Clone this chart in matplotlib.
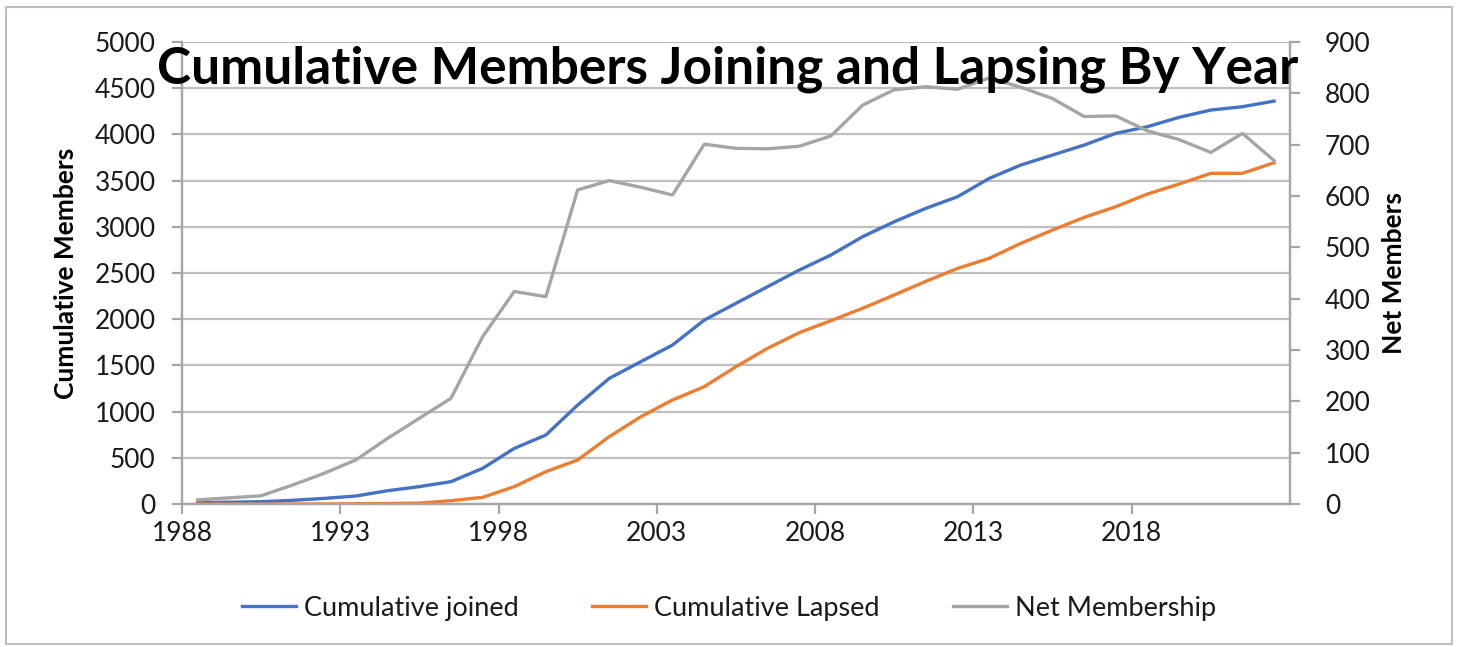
import pandas as pd
import matplotlib.pyplot as plt
import matplotlib.dates as mdates
from matplotlib.patches import Rectangle

plt.rcParams['font.family'] = ['Lato', 'DejaVu Sans']

# yearly data, 1988 - 2022
years = list(range(1988, 2023))
cum_joined = [14, 20, 25, 40, 61, 87, 144, 188, 242, 386, 602, 747, 1071, 1360, 1541,
              1721, 1991, 2172, 2352, 2532, 2695, 2893, 3055, 3200, 3326, 3524, 3669,
              3777, 3885, 4012, 4084, 4185, 4264, 4300, 4361]
cum_lapsed = [0, 0, 0, 0, 0, 3, 5, 10, 36, 72, 188, 350, 476, 729, 945,
              1126, 1270, 1486, 1685, 1854, 1984, 2118, 2262, 2410, 2550, 2659, 2821,
              2965, 3102, 3218, 3355, 3463, 3579, 3579, 3694]
net_members = [8, 12, 16, 37, 60, 86, 128, 167, 206, 326, 414, 404, 612, 630, 617,
               602, 701, 693, 692, 697, 717, 777, 807, 813, 808, 830, 812,
               790, 755, 756, 727, 710, 685, 722, 669]

# plot each year at mid-year
dates = pd.to_datetime([f'{y}-07-01' for y in years])

blue = '#4472C4'
orange = '#ED7D31'
grey = '#A5A5A5'
axcol = '#A6A6A6'
txt = '#1a1a1a'

fig = plt.figure(figsize=(14.58, 6.47), dpi=100)
ax = fig.add_axes([0.1248, 0.221, 0.76, 0.714])
ax2 = ax.twinx()

l1, = ax.plot(dates, cum_joined, color=blue, lw=2.4, label='Cumulative joined', zorder=3)
l2, = ax.plot(dates, cum_lapsed, color=orange, lw=2.4, label='Cumulative Lapsed', zorder=3)
l3, = ax2.plot(dates, net_members, color=grey, lw=2.4, label='Net Membership', zorder=3)

ax.set_xlim(pd.Timestamp('1988-01-01'), pd.Timestamp('2023-01-01'))
ax.set_ylim(0, 5000)
ax2.set_ylim(0, 900)
ax.set_yticks(range(0, 5001, 500))
ax2.set_yticks(range(0, 901, 100))
ax.set_xticks(pd.to_datetime([f'{y}-01-01' for y in range(1988, 2019, 5)]))
ax.xaxis.set_major_formatter(mdates.DateFormatter('%Y'))

ax.grid(axis='y', color='#BFBFBF', lw=1.6)
ax.set_axisbelow(True)

for a in (ax, ax2):
    for s in a.spines.values():
        s.set_color(axcol)
        s.set_linewidth(1.6)
    a.spines['top'].set_visible(False)
    a.tick_params(colors=axcol, width=1.6, length=7, labelsize=19, labelcolor=txt)
ax.tick_params(axis='y', pad=12)
ax2.tick_params(axis='y', pad=18)
ax.tick_params(axis='x', pad=5)

ax.set_ylabel('Cumulative Members', fontsize=19, fontweight='bold', color='black', labelpad=12)
ax2.set_ylabel('Net Members', fontsize=19, fontweight='bold', color='black', labelpad=8)

fig.text(0.499, 0.893, 'Cumulative Members Joining and Lapsing By Year', ha='center', va='center',
         fontsize=37, fontweight='bold', color='black', zorder=10)

fig.legend(handles=[l1, l2, l3], loc='center', bbox_to_anchor=(0.5, 0.06), ncol=3,
           frameon=False, fontsize=19.5, handlelength=2.0, columnspacing=2.7,
           handletextpad=0.3, labelcolor=txt)

fig.patches.append(Rectangle((0.004, 0.004), 0.992, 0.985, transform=fig.transFigure,
                             fill=False, edgecolor='#BFBFBF', lw=1.5))

fig.savefig('out.png', dpi=100)
